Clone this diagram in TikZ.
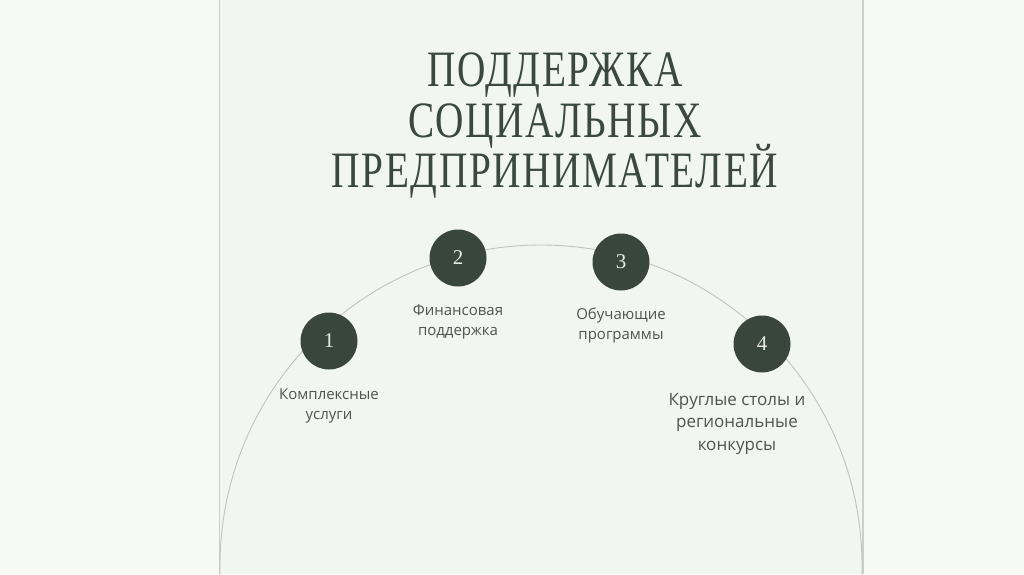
\documentclass[tikz,border=0pt]{standalone}
\usepackage{fontspec}
\usepackage{graphicx}
\setmainfont{Liberation Serif}
\newfontfamily\capfont{Open Sans}
\newfontfamily\headfont[LetterSpace=4]{Liberation Serif}
\usepackage{xcolor}
\usetikzlibrary{positioning}
\definecolor{bgside}{HTML}{F7F9F5}
\definecolor{bgmain}{HTML}{F2F6F1}
\definecolor{rulegray}{HTML}{C6D2CB}
\definecolor{arcgray}{HTML}{BFC4BF}
\definecolor{dotgreen}{HTML}{39463C}
\definecolor{numwhite}{HTML}{E6EBE5}
\definecolor{titlegreen}{HTML}{3A4940}
\definecolor{captiongray}{HTML}{505351}

\begin{document}
\begin{tikzpicture}[x=1pt,y=-1pt,
  numdot/.style={circle,fill=dotgreen,minimum size=57pt,inner sep=0pt,
    text=numwhite,font=\fontsize{21}{21}\selectfont},
  caption/.style={align=center,text=captiongray,
    font=\capfont\fontsize{15}{20}\selectfont},
  titletext/.style={anchor=base,text=titlegreen,inner sep=0pt,
    font=\headfont\fontsize{51}{51}\selectfont}]
  % page
  \useasboundingbox (0,0) rectangle (1024,574);
  \fill[bgside] (0,0) rectangle (1024,574);
  \fill[bgmain] (220,0) rectangle (863,574);
  \draw[rulegray,line width=1.3pt] (219.5,0) -- (219.5,574);
  \draw[rulegray,line width=1.3pt] (863,0) -- (863,574);

  % heading
  \node[titletext] (title1) at (555,86) {\scalebox{0.77}[1]{ПОДДЕРЖКА}};
  \node[titletext] (title2) at (555,137) {\scalebox{0.77}[1]{СОЦИАЛЬНЫХ}};
  \node[titletext] (title3) at (555,187) {\scalebox{0.77}[1]{ПРЕДПРИНИМАТЕЛЕЙ}};

  % half circle
  \draw[arcgray,line width=0.9pt] (220,580) -- (220,566)
    arc[start angle=180,end angle=360,radius=321] -- (862,580);

  % steps
  \node[numdot] (n1) at (329,341) {1};
  \node[numdot] (n2) at (458,258) {2};
  \node[numdot] (n3) at (621,262) {3};
  \node[numdot] (n4) at (762,344) {4};

  % captions
  \node[caption,below=16pt of n1] (c1) {Комплексные\\услуги};
  \node[caption,below=14pt of n2] (c2) {Финансовая\\поддержка};
  \node[caption,below=14pt of n3] (c3) {Обучающие\\программы};
  \node[caption,below=17pt of n4,xshift=-25pt,
    font=\capfont\fontsize{17}{22.5}\selectfont] (c4)
    {Круглые столы и\\региональные\\конкурсы};
\end{tikzpicture}
\end{document}
